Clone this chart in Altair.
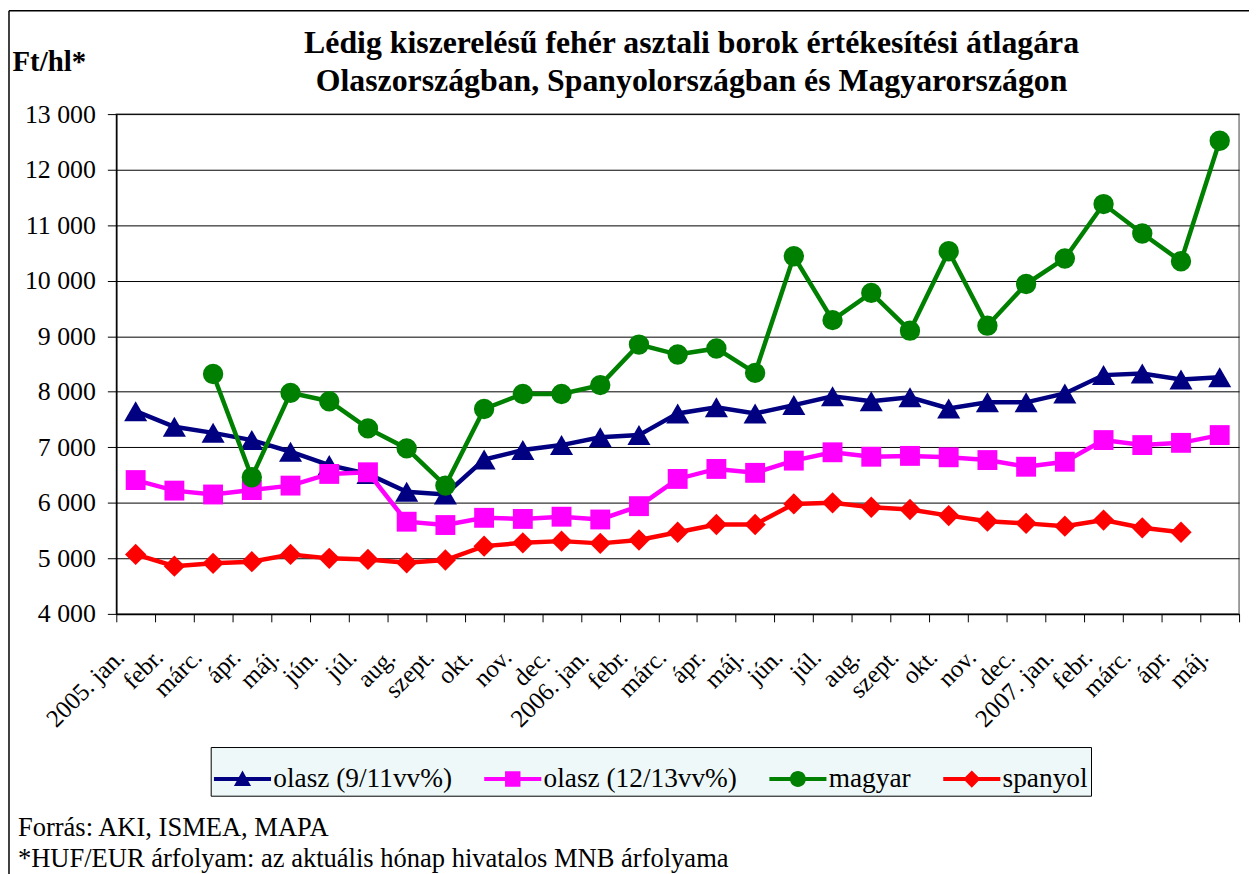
import json
import altair as alt
import pandas as pd

months = ["2005. jan.", "febr.", "márc.", "ápr.", "máj.", "jún.", "júl.", "aug.", "szept.",
          "okt.", "nov.", "dec.", "2006. jan.", "febr.", "márc.", "ápr.", "máj.", "jún.",
          "júl.", "aug.", "szept.", "okt.", "nov.", "dec.", "2007. jan.", "febr.", "márc.",
          "ápr.", "máj."]

series_names = ["olasz (9/11vv%)", "olasz (12/13vv%)", "magyar", "spanyol"]
series_colors = ["#000080", "#FF00FF", "#008000", "#FF0000"]
series_shapes = ["triangle-up", "square", "circle", "diamond"]
series_sizes = [540, 400, 420, 460]

olasz_9_11 = [7650, 7370, 7260, 7130, 6920, 6680, 6520, 6200, 6150, 6780, 6950, 7040, 7180,
              7220, 7610, 7720, 7610, 7760, 7920, 7830, 7900, 7700, 7810, 7810, 7970, 8300,
              8330, 8220, 8260]
olasz_12_13 = [6410, 6220, 6150, 6230, 6310, 6520, 6550, 5660, 5600, 5730, 5710, 5750, 5700,
               5940, 6430, 6610, 6540, 6760, 6910, 6830, 6845, 6820, 6770, 6650, 6740, 7130,
               7040, 7080, 7220]
magyar = [None, None, 8320, 6460, 7980, 7830, 7340, 6980, 6310, 7690, 7960, 7960, 8120, 8850,
          8670, 8780, 8340, 10440, 9290, 9780, 9100, 10530, 9190, 9940, 10400, 11380, 10850,
          10350, 12520]
spanyol = [5070, 4860, 4910, 4940, 5070, 5000, 4980, 4920, 4970, 5220, 5280, 5310, 5270, 5330,
           5470, 5610, 5610, 5980, 6000, 5920, 5880, 5770, 5670, 5630, 5580, 5690, 5550, 5470,
           None]

y_ticks = [4000, 5000, 6000, 7000, 8000, 9000, 10000, 11000, 12000, 13000]

title_lines = ["Lédig kiszerelésű fehér asztali borok értékesítési átlagára",
               "Olaszországban, Spanyolországban és Magyarországon"]
y_title = "Ft/hl*"
source_note = "Forrás: AKI, ISMEA, MAPA"
rate_note = "*HUF/EUR árfolyam: az aktuális hónap hivatalos MNB árfolyama"

rows = []
for name, vals in zip(series_names, [olasz_9_11, olasz_12_13, magyar, spanyol]):
    for i, v in enumerate(vals):
        if v is not None:
            rows.append({"idx": i, "series": name, "value": v})
df = pd.DataFrame(rows)

FONT = "'Liberation Serif', 'Times New Roman', Tinos, serif"

label_expr = json.dumps(months, ensure_ascii=False) + "[datum.value]"

x_enc = alt.X(
    "idx:O",
    scale=alt.Scale(type="band", domain=list(range(len(months))), paddingInner=0, paddingOuter=0),
    axis=alt.Axis(
        title=None, labelExpr=label_expr, labelAngle=-45, labelAlign="right",
        labelBaseline="middle", labelFont=FONT, labelFontSize=25, labelColor="black",
        labelPadding=31, labelOffset=-16, tickBand="extent", ticks=True, tickSize=8,
        tickColor="black", domainColor="black", domainWidth=1.5, grid=False,
        labelOverlap=False, labelBound=False,
    ),
)
y_enc = alt.Y(
    "value:Q",
    scale=alt.Scale(domain=[4000, 13000], nice=False, zero=False),
    axis=alt.Axis(
        values=y_ticks, labelExpr="replace(format(datum.value, ','), ',', ' ')",
        labelFont=FONT, labelFontSize=26, labelColor="black", labelPadding=12,
        tickSize=9, tickColor="black", domainColor="black", domainWidth=1.5,
        grid=True, gridColor="black", gridWidth=1,
        title=y_title, titleAngle=0, titleAlign="left", titleBaseline="alphabetic",
        titleX=-105, titleY=-44, titleFont=FONT, titleFontSize=29, titleFontWeight="bold",
        titleColor="black",
    ),
)

legend_paths = [
    "M-1,-0.07H1V0.07H-1Z M0,-0.3L0.3,0.24H-0.3Z",
    "M-1,-0.07H1V0.07H-1Z M-0.27,-0.27H0.27V0.27H-0.27Z",
    "M-1,-0.07H1V0.07H-1Z M-0.28,0A0.28,0.28 0 1,1 0.28,0A0.28,0.28 0 1,1 -0.28,0Z",
    "M-1,-0.07H1V0.07H-1Z M0,-0.3L0.3,0L0,0.3L-0.3,0Z",
]

legend = alt.Legend(
    title=None, orient="none", legendX=95, legendY=637, direction="horizontal", columns=4,
    labelFont=FONT, labelFontSize=27.5, labelColor="black", labelLimit=400, symbolSize=3300,
    symbolStrokeWidth=0, labelOffset=2, columnPadding=32, padding=3,
    fillColor="#eef8f8", strokeColor="black",
)

base = alt.Chart(df)
layers = []
for name, col, shp, sz in zip(series_names, series_colors, series_shapes, series_sizes):
    sub = base.transform_filter(alt.datum.series == name)
    layers.append(sub.mark_line(color=col, strokeWidth=4.5).encode(x=x_enc, y=y_enc))
    layers.append(sub.mark_point(filled=True, size=sz, opacity=1, shape=shp, color=col).encode(
        x=x_enc, y=y_enc))

legend_layer = base.transform_filter("false").mark_point(filled=True, opacity=1).encode(
    x=x_enc, y=y_enc,
    color=alt.Color("series:N", scale=alt.Scale(domain=series_names, range=series_colors), legend=legend),
    shape=alt.Shape("series:N", scale=alt.Scale(domain=series_names, range=legend_paths), legend=legend),
)

one = alt.Chart(pd.DataFrame({"k": [0]}))


def text_at(txt, x, y, size, align="left", weight="normal"):
    return one.mark_text(align=align, baseline="alphabetic", font=FONT, fontSize=size,
                         fontWeight=weight, color="black").encode(
        x=alt.value(x), y=alt.value(y), text=alt.value(txt))


notes = [
    text_at(title_lines[0], 579, -61, 32, align="center", weight="bold"),
    text_at(title_lines[1], 579, -23, 32, align="center", weight="bold"),
    text_at(source_note, -99, 727, 26.7),
    text_at(rate_note, -99, 758, 26.7),
    one.mark_rule(color="black", strokeWidth=1.5).encode(
        x=alt.value(-108), y=alt.value(-104), y2=alt.value(770)),
    one.mark_rule(color="black", strokeWidth=1.5).encode(
        x=alt.value(-108), x2=alt.value(1140), y=alt.value(-104)),
]

chart = alt.layer(*layers, legend_layer, *notes).properties(
    width=1130, height=503,
    autosize=alt.AutoSizeParams(type="none"),
    padding={"left": 109, "top": 104, "right": 10, "bottom": 259},
).configure_view(stroke="#808080", strokeWidth=1.5)

chart.save("out.html", embed_options={"renderer": "svg", "actions": False})
